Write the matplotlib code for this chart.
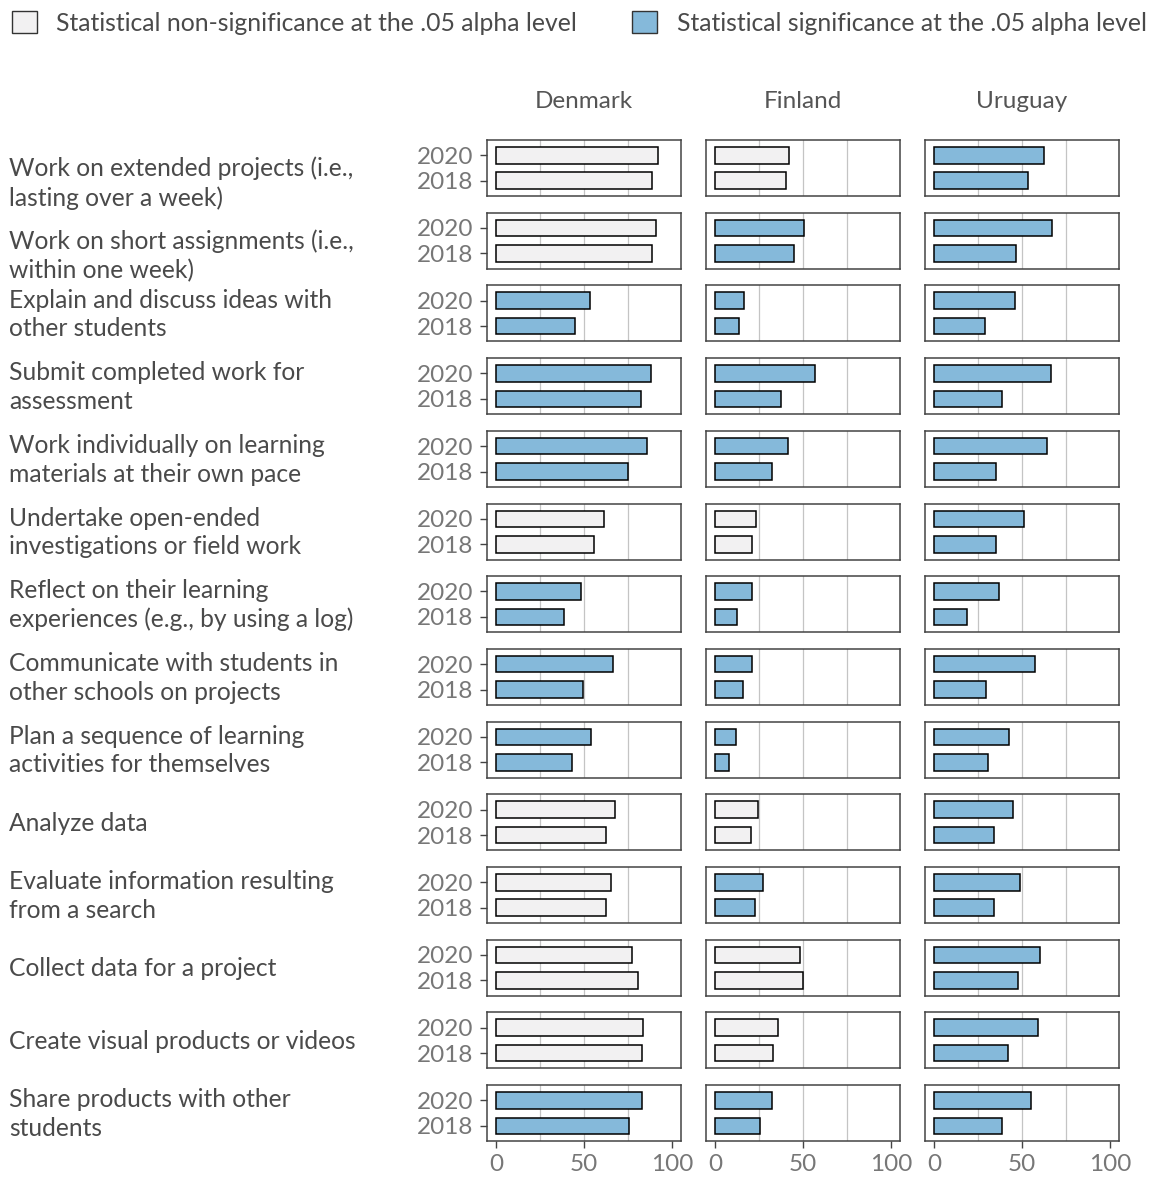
import matplotlib
matplotlib.use("Agg")
import matplotlib.pyplot as plt
from matplotlib.patches import Patch

plt.rcParams["font.family"] = ["Lato", "DejaVu Sans"]
plt.rcParams["font.weight"] = "normal"

actividades = [
    "Work on extended projects (i.e.,\nlasting over a week)",
    "Work on short assignments (i.e.,\nwithin one week)",
    "Explain and discuss ideas with\nother students",
    "Submit completed work for\nassessment",
    "Work individually on learning\nmaterials at their own pace",
    "Undertake open-ended\ninvestigations or field work",
    "Reflect on their learning\nexperiences (e.g., by using a log)",
    "Communicate with students in\nother schools on projects",
    "Plan a sequence of learning\nactivities for themselves",
    "Analyze data",
    "Evaluate information resulting\nfrom a search",
    "Collect data for a project",
    "Create visual products or videos",
    "Share products with other\nstudents",
]

paises = ["Denmark", "Finland", "Uruguay"]
anios = ["2018", "2020"]

denmark_2020 = [92.0, 91.1, 53.6, 88.1, 85.7, 61.4, 48.5, 66.3, 53.9, 67.7, 65.1, 77.0, 83.6, 82.7]
denmark_2018 = [88.5, 88.8, 44.7, 82.2, 75.2, 55.7, 38.9, 49.6, 43.1, 62.3, 62.3, 80.8, 82.7, 75.4]
finland_2020 = [42.3, 50.5, 16.6, 56.8, 41.4, 23.1, 21.0, 20.8, 12.1, 24.3, 27.6, 48.1, 35.7, 32.2]
finland_2018 = [40.4, 44.9, 13.6, 37.4, 32.5, 20.8, 12.4, 15.7, 8.2, 20.6, 22.7, 50.0, 32.9, 25.7]
uruguay_2020 = [62.3, 67.2, 46.1, 66.7, 64.2, 51.3, 37.0, 57.4, 42.6, 44.7, 48.7, 60.0, 58.8, 55.3]
uruguay_2018 = [53.4, 46.4, 29.3, 38.6, 35.1, 35.4, 18.7, 29.7, 30.7, 34.4, 34.4, 48.0, 41.9, 38.4]

# 1 = significativo al .05
sig_denmark = [0, 0, 1, 1, 1, 0, 1, 1, 1, 0, 0, 0, 0, 1]
sig_finland = [0, 1, 1, 1, 1, 0, 1, 1, 1, 0, 1, 0, 0, 1]
sig_uruguay = [1, 1, 1, 1, 1, 1, 1, 1, 1, 1, 1, 1, 1, 1]

valores = {
    "Denmark": (denmark_2018, denmark_2020, sig_denmark),
    "Finland": (finland_2018, finland_2020, sig_finland),
    "Uruguay": (uruguay_2018, uruguay_2020, sig_uruguay),
}

color_no = "#F2F1F2"
color_si = "#85B9DA"
gris_txt = "#777777"
gris_lab = "#4a4a4a"

W, H = 1153, 1179
fig = plt.figure(figsize=(W / 100, H / 100), dpi=100)

izq = [487, 706, 925]
ancho = 194
arriba0 = 140
paso = 72.7
alto = 56
# las dos primeras etiquetas aparecen medio renglon mas abajo en el original
bajada = {0: 14, 1: 14}

for i, act in enumerate(actividades):
    top = arriba0 + i * paso
    for j, pais in enumerate(paises):
        v18, v20, sig = valores[pais]
        ax = fig.add_axes([izq[j] / W, 1 - (top + alto) / H, ancho / W, alto / H])
        col = color_si if sig[i] else color_no
        ax.barh([0, 1], [v18[i], v20[i]], height=0.65, color=col,
                edgecolor="black", linewidth=1.1, zorder=3)
        ax.set_xlim(-5, 105)
        ax.set_ylim(-0.6, 1.6)
        for g in [25, 50, 75]:
            ax.axvline(g, color="#c4c4c4", linewidth=0.9, zorder=1)
        for s in ax.spines.values():
            s.set_color("#444444")
            s.set_linewidth(1.1)
        ax.set_yticks([0, 1])
        ax.set_xticks([0, 50, 100])
        if j == 0:
            ax.set_yticklabels(anios)
            ax.tick_params(axis="y", length=5, width=1.0, color="#444444",
                           labelsize=17.5, labelcolor=gris_txt, pad=5)
        else:
            ax.tick_params(axis="y", length=0, labelleft=False)
        if i == len(actividades) - 1:
            ax.set_xticklabels(["0", "50", "100"])
            ax.tick_params(axis="x", length=5, width=1.0, color="#444444",
                           labelsize=17.5, labelcolor=gris_txt, pad=4)
        else:
            ax.tick_params(axis="x", length=0, labelbottom=False)
        if i == 0:
            ax.text(0.5, 1 + 38 / alto, pais, transform=ax.transAxes,
                    ha="center", va="center", fontsize=17.5, color="#555555")
    yc = top + alto / 2 + 1 + bajada.get(i, 0)
    fig.text(9 / W, 1 - yc / H, act, ha="left", va="center",
             fontsize=17.7, color=gris_lab, linespacing=1.3)

manijas = [
    Patch(facecolor=color_no, edgecolor="#333333", linewidth=1.0,
          label="Statistical non-significance at the .05 alpha level"),
    Patch(facecolor=color_si, edgecolor="#333333", linewidth=1.0,
          label="Statistical significance at the .05 alpha level"),
]
ley = fig.legend(handles=manijas, loc="center left", bbox_to_anchor=(12 / W, 1 - 23 / H),
                 ncol=2, frameon=False, fontsize=17.8, handlelength=1.0,
                 handleheight=1.0, handletextpad=0.8, columnspacing=2.22,
                 borderpad=0, borderaxespad=0)
for t in ley.get_texts():
    t.set_color(gris_lab)

fig.savefig("out.png", dpi=100)
